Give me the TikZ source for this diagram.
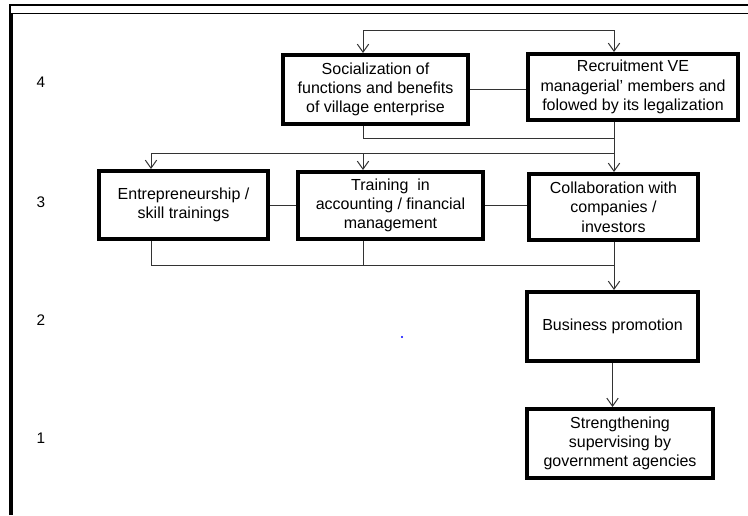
\documentclass[tikz,border=0pt]{standalone}
\usepackage{fontspec}
\setmainfont{Liberation Sans}
\usetikzlibrary{arrows.meta}

\tikzset{
	link/.style={draw=black!80,line width=0.75pt},
	tip/.style={-{Straight Barb[length=6pt,width=8.5pt]}},
	bothtips/.style={{Straight Barb[length=6pt,width=8.5pt]}-{Straight Barb[length=6pt,width=8.5pt]}},
}

\begin{document}
\begin{tikzpicture}[x=0.75pt,y=-0.75pt]
			\useasboundingbox (0,0) rectangle (748,515);
			% page frame
			\draw[line width=1.1pt] (10,515) -- (10,5) -- (748,5);
			\draw[line width=1.1pt] (12,515) -- (12,13.5) -- (748,13.5);
		
			\begin{scope}[every node/.style={font=\fontsize{11.5}{13}\selectfont}]
				\node (lvfour) at (41,82) {4};
				\node (lvthree) at (41,202) {3};
				\node (lvtwo) at (41,320) {2};
				\node (lvone) at (41,438) {1};
			\end{scope}
		
			\begin{scope}[every node/.style={draw,line width=3pt,align=center,inner sep=2pt,font=\fontsize{12}{14.5}\selectfont}]
				\node[minimum width=138.75pt,minimum height=51.75pt] (soc) at (375.5,89.5) {Socialization of\\functions and benefits\\of village enterprise};
				\node[minimum width=157.5pt,minimum height=49.5pt] (rec) at (633,87) {Recruitment VE\\managerial' members and\\folowed by its legalization};
				\node[minimum width=126.75pt,minimum height=51pt] (ent) at (183.5,205) {Entrepreneurship /\\skill trainings};
				\node[minimum width=138.75pt,minimum height=50.25pt] (trn) at (390.5,205.5) {Training~ in\\accounting / financial\\management};
				\node[minimum width=126.75pt,minimum height=49.5pt] (col) at (613.5,207) {Collaboration with\\companies /\\investors};
				\node[minimum width=128.25pt,minimum height=51.75pt] (bus) at (612.5,326.5) {Business promotion};
				\node[minimum width=139.5pt,minimum height=51.75pt] (str) at (620,443.5) {Strengthening\\supervising by\\government agencies};
			\end{scope}
		
			% columns and rows of the connectors
			\coordinate (colA) at (151,0);
			\coordinate (colB) at (363,0);
			\coordinate (colC) at (614,0);
			\coordinate (rowtop) at (0,30);
			\coordinate (rowmid) at (0,138);
			\coordinate (rowdist) at (0,153);
			\coordinate (rowcoll) at (0,265);
		
			\begin{scope}[every path/.style={link}]
				\draw[bothtips] (soc.north -| colB) |- (rowtop -| colC) -- (rec.north -| colC);
				\draw (soc.east) -- (soc.east -| rec.west);
				\draw (soc.south -| colB) |- (rowmid -| colC);
				\draw[tip] (rec.south -| colC) -- (col.north -| colC);
				\draw[tip] (rowdist -| colC) -| (ent.north -| colA);
				\draw[tip] (rowdist -| colB) -- (trn.north -| colB);
				\draw (ent.east) -- (ent.east -| trn.west);
				\draw (trn.east) -- (trn.east -| col.west);
				\draw (ent.south -| colA) |- (rowcoll -| colC);
				\draw (trn.south -| colB) -- (rowcoll -| colB);
				\draw[tip] (col.south -| colC) -- (bus.north -| colC);
				\draw[tip] (bus.south) -- (bus.south |- str.north);
			\end{scope}
		
			\fill[blue] (402,337) circle (1.2);
		\end{tikzpicture}
\end{document}
